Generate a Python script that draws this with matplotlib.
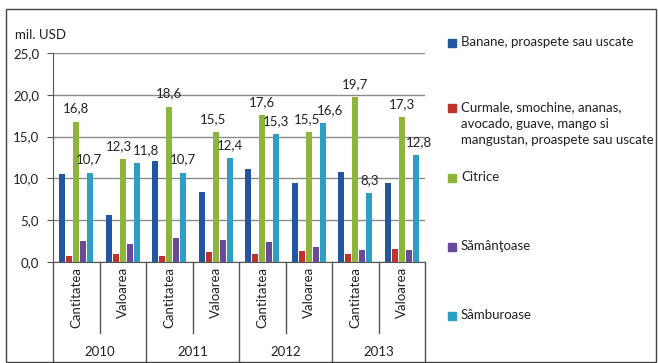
import numpy as np
import matplotlib.pyplot as plt
from matplotlib.patches import Rectangle
from matplotlib.transforms import blended_transform_factory

plt.rcParams['font.family'] = ['Lato', 'DejaVu Sans']

years = ['2010', '2011', '2012', '2013']
measures = ['Cantitatea', 'Valoarea']
series = ['Banane, proaspete sau uscate',
          'Curmale, smochine, ananas,\navocado, guave, mango si\nmangustan, proaspete sau uscate',
          'Citrice', 'Sămânţoase', 'Sâmburoase']

banane = [10.5, 5.6, 12.1, 8.4, 11.1, 9.5, 10.8, 9.5]
curmale = [0.7, 1.0, 0.7, 1.2, 0.9, 1.3, 1.0, 1.5]
citrice = [16.8, 12.3, 18.6, 15.5, 17.6, 15.5, 19.7, 17.3]
samantoase = [2.5, 2.2, 2.9, 2.6, 2.4, 1.8, 1.4, 1.4]
samburoase = [10.7, 11.8, 10.7, 12.4, 15.3, 16.6, 8.3, 12.8]

colors = ['#2257a0', '#c0322b', '#8db53c', '#684a98', '#2e9ec3']
values = [banane, curmale, citrice, samantoase, samburoase]
labelled = [False, False, True, False, True]
# sideways nudge (points) for value labels that would collide
nudge = {2: [0, -3, 0, -2, 0, -1, 0, 0],
         4: [-1, 7, 0, 0, 0, 5, 0, 2]}

FS = 9.5
W, H = 658, 363
fig = plt.figure(figsize=(W / 100, H / 100), dpi=100)
ax = fig.add_axes([53 / W, (H - 262) / H, (425 - 53) / W, (262 - 53) / H])

x = np.arange(len(banane))
offsets = [-0.3, -0.15, 0, 0.15, 0.3]
for k, (vals, col, off, lab) in enumerate(zip(values, colors, offsets, labelled)):
    bars = ax.bar(x + off, vals, width=0.13, color=col, zorder=3)
    if lab:
        for i, (b, v) in enumerate(zip(bars, vals)):
            ax.annotate(f'{v:.1f}'.replace('.', ','),
                        (b.get_x() + b.get_width() / 2, v),
                        xytext=(nudge[k][i], 5), textcoords='offset points',
                        ha='center', va='bottom', fontsize=FS, color='#222222')

ax.set_xlim(-0.5, len(banane) - 0.5)
ax.set_ylim(0, 25)
yt = np.arange(0, 26, 5)
ax.set_yticks(yt)
ax.set_yticklabels([f'{t:.1f}'.replace('.', ',') for t in yt], fontsize=FS, color='#222222')
ax.tick_params(axis='y', length=4, color='#555555', pad=6)
ax.set_xticks([])
ax.grid(axis='y', color='#8a8a8a', linewidth=1, zorder=0)
for s in ['top', 'right']:
    ax.spines[s].set_visible(False)
ax.spines['left'].set_color('#555555')
ax.spines['bottom'].set_color('#555555')

# category axis: measure labels, year labels and separators
tr = blended_transform_factory(ax.transData, ax.transAxes)
for i in range(len(banane)):
    ax.text(i, -0.025, measures[i % 2], rotation=90, ha='center', va='top',
            fontsize=FS, color='#222222', transform=tr)
for k in range(len(banane) + 1):
    bottom = -0.48 if k % 2 == 0 else -0.34
    ax.plot([k - 0.5, k - 0.5], [0, bottom], color='#555555', lw=1,
            transform=tr, clip_on=False)
for j, yr in enumerate(years):
    ax.text(2 * j + 0.5, -0.43, yr, ha='center', va='center',
            fontsize=FS, color='#222222', transform=tr)

fig.text(15 / W, 1 - 35 / H, 'mil. USD', fontsize=FS, va='center', color='#222222')

# legend
leg_y = [43, 108, 178, 247, 316]
for name, col, yy in zip(series, colors, leg_y):
    fig.patches.append(Rectangle((448 / W, 1 - (yy + 4) / H), 8 / W, 8 / H,
                                 color=col, transform=fig.transFigure))
    fig.text(461 / W, 1 - (yy - 7) / H, name, fontsize=FS, va='top',
             linespacing=1.45, color='#222222')

fig.patches.append(Rectangle((6 / W, 1 / H), (W - 8) / W, (H - 10) / H, fill=False,
                             edgecolor='#444444', lw=1, transform=fig.transFigure))

fig.savefig('out.png', dpi=100)
